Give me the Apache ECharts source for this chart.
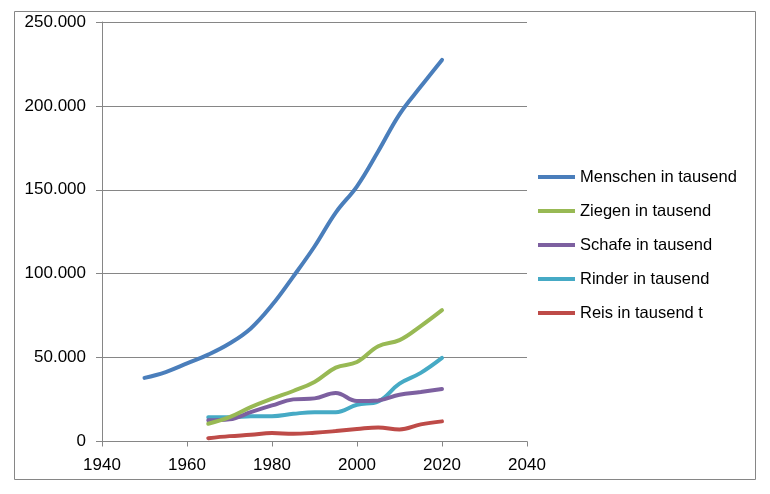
<!DOCTYPE html>
<html>
<head>
<meta charset="utf-8">
<script src="https://cdn.jsdelivr.net/npm/echarts@6/dist/echarts.min.js"></script>
<style>
html,body{margin:0;padding:0;background:#fff;}
#c{width:770px;height:494px;}
</style>
</head>
<body>
<div id="c"></div>
<script>
const yearsMenschen = [1950,1955,1960,1965,1970,1975,1980,1985,1990,1995,2000,2005,2010,2015,2020];
const menschen = [37900,41400,46500,51800,58400,67400,81300,98300,116200,136400,152100,173000,195000,211500,227400];
const years = [1965,1970,1975,1980,1985,1990,1995,2000,2005,2010,2015,2020];
const ziegen = [10600,14500,20500,25500,30100,35500,44000,47400,56800,60400,68800,78300];
const schafe = [12600,13200,17500,21500,25100,25700,28900,24100,24500,27900,29500,31300];
const rinder = [14500,14500,15000,15100,16500,17500,17500,21900,23900,34500,40900,49800];
const reis = [2000,3200,4000,5000,4600,5200,6200,7400,8400,7200,10200,12000];
const seriesNames = ['Menschen in tausend','Ziegen in tausend','Schafe in tausend','Rinder in tausend','Reis in tausend t'];
const colors = ['#4A7EBB','#98B954','#7D60A0','#46AAC5','#BE4B48'];

function pairs(xs, ys){ return xs.map((x,i)=>[x,ys[i]]); }
const dataSets = [pairs(yearsMenschen,menschen),pairs(years,ziegen),pairs(years,schafe),pairs(years,rinder),pairs(years,reis)];

const font = 'Liberation Sans';
const chart = echarts.init(document.getElementById('c'), null, {renderer:'canvas'});
chart.setOption({
  animation:false,
  backgroundColor:'#fff',
  graphic:[{type:'rect',shape:{x:14.5,y:11.5,width:741,height:468},style:{fill:'none',stroke:'#868686',lineWidth:1},silent:true}],
  grid:{left:102,top:22,right:243,bottom:52.5,containLabel:false},
  legend:{
    orient:'vertical',left:533,top:162,
    icon:'rect',itemWidth:37,itemHeight:4,itemGap:14,
    textStyle:{fontFamily:font,fontSize:16.5,color:'#000',lineHeight:20},
    data:seriesNames
  },
  xAxis:{
    type:'value',min:1940,max:2040,interval:20,
    axisLine:{lineStyle:{color:'#868686',width:1}},
    axisTick:{show:true,length:5,lineStyle:{color:'#868686'}},
    axisLabel:{margin:15,fontFamily:font,fontSize:17,color:'#000',formatter:v=>String(v)},
    splitLine:{show:false}
  },
  yAxis:{
    type:'value',min:0,max:250000,interval:50000,
    axisLine:{show:true,lineStyle:{color:'#868686',width:1}},
    axisTick:{show:true,length:6,lineStyle:{color:'#868686'}},
    axisLabel:{margin:16,fontFamily:font,fontSize:17,color:'#000',
      formatter:v=>String(v).replace(/\B(?=(\d{3})+(?!\d))/g,'.')},
    splitLine:{show:true,lineStyle:{color:'#868686',width:1}}
  },
  series: seriesNames.map((n,i)=>({
    name:n,type:'line',data:dataSets[i],smooth:0.4,showSymbol:false,symbol:'none',
    lineStyle:{width:4,color:colors[i],cap:'round'},itemStyle:{color:colors[i]},
    z: 10-i
  }))
});
</script>
</body>
</html>
